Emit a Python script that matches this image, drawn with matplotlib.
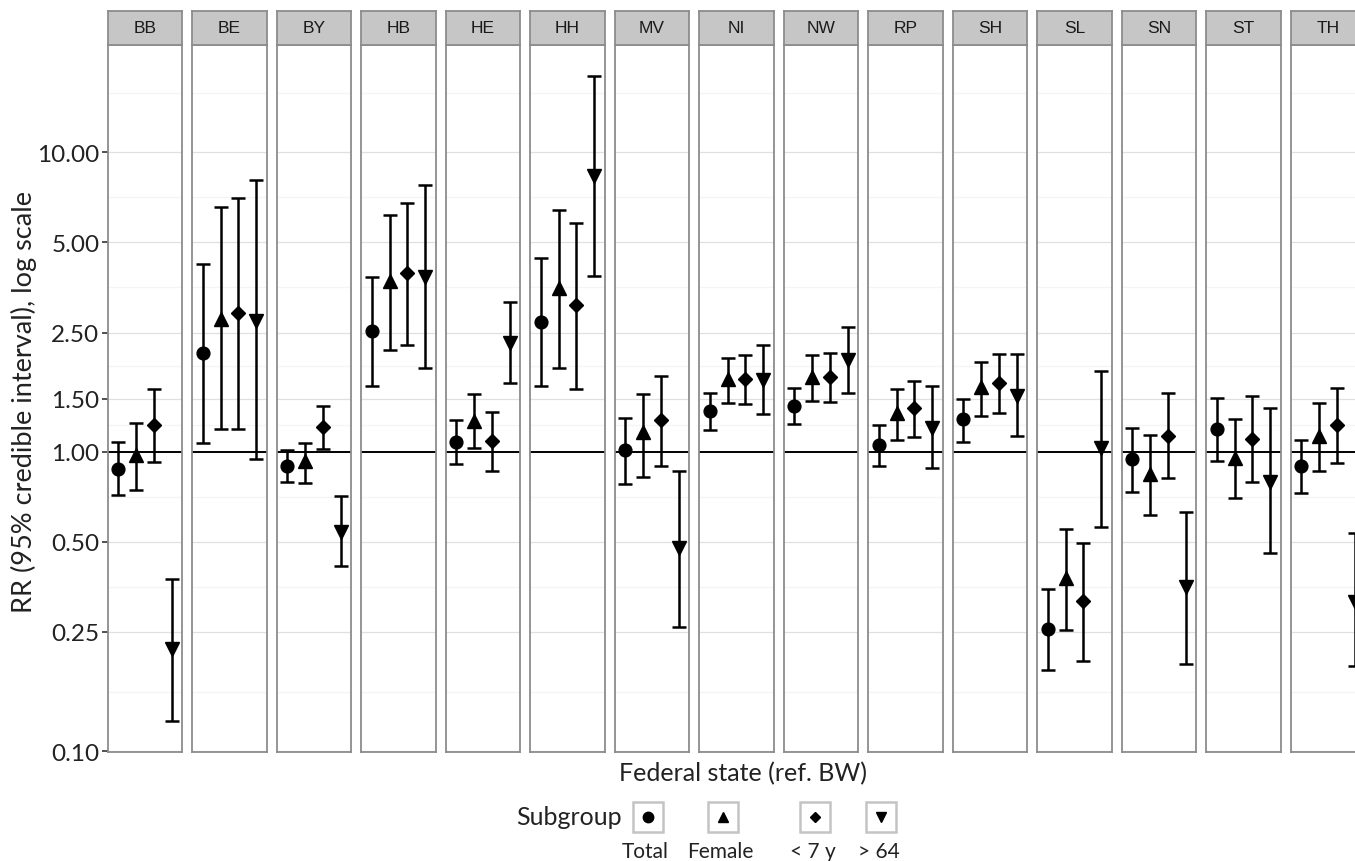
import matplotlib
matplotlib.use("Agg")
import matplotlib.pyplot as plt
from matplotlib.patches import Rectangle
from matplotlib.ticker import NullLocator

# ---- data -----------------------------------------------------------------
states = ["BB", "BE", "BY", "HB", "HE", "HH", "MV", "NI", "NW", "RP",
          "SH", "SL", "SN", "ST", "TH"]
subgroups = ["Total", "Female", "< 7 y", "> 64"]

total_rr = [0.877, 2.135, 0.899, 2.53, 1.081, 2.72, 1.011, 1.366, 1.425, 1.054,
            1.281, 0.256, 0.942, 1.19, 0.893]
total_lo = [0.714, 1.07, 0.792, 1.66, 0.912, 1.66, 0.78, 1.185, 1.237, 0.899,
            1.081, 0.186, 0.732, 0.932, 0.725]
total_hi = [1.081, 4.23, 1.014, 3.83, 1.272, 4.43, 1.30, 1.567, 1.636, 1.224,
            1.503, 0.348, 1.198, 1.507, 1.093]

female_rr = [0.972, 2.77, 0.932, 3.71, 1.268, 3.52, 1.16, 1.744, 1.78, 1.351,
             1.642, 0.3775, 0.844, 0.955, 1.124]
female_lo = [0.743, 1.194, 0.786, 2.18, 1.025, 1.906, 0.823, 1.456, 1.477, 1.093,
             1.318, 0.254, 0.613, 0.70, 0.862]
female_hi = [1.246, 6.54, 1.073, 6.15, 1.557, 6.40, 1.56, 2.06, 2.097, 1.625,
             1.995, 0.552, 1.136, 1.286, 1.45]

young_rr = [1.224, 2.915, 1.211, 3.94, 1.085, 3.08, 1.272, 1.75, 1.775, 1.40,
            1.70, 0.318, 1.132, 1.104, 1.224]
young_lo = [0.922, 1.19, 1.018, 2.27, 0.865, 1.62, 0.899, 1.44, 1.466, 1.12,
            1.351, 0.2003, 0.814, 0.792, 0.918]
young_hi = [1.613, 7.06, 1.425, 6.77, 1.36, 5.82, 1.787, 2.097, 2.134, 1.72,
            2.118, 0.497, 1.567, 1.54, 1.63]

old_rr = [0.2197, 2.74, 0.538, 3.82, 2.30, 8.32, 0.475, 1.73, 2.03, 1.202,
          1.53, 1.025, 0.352, 0.789, 0.315]
old_lo = [0.126, 0.948, 0.415, 1.906, 1.70, 3.87, 0.259, 1.337, 1.567, 0.88,
          1.132, 0.561, 0.196, 0.46, 0.193]
old_hi = [0.375, 8.09, 0.709, 7.78, 3.15, 18.0, 0.862, 2.275, 2.60, 1.654,
          2.12, 1.86, 0.631, 1.395, 0.535]

y_breaks = [0.10, 0.25, 0.50, 1.00, 1.50, 2.50, 5.00, 10.00]

series = [(total_rr, total_lo, total_hi), (female_rr, female_lo, female_hi),
          (young_rr, young_lo, young_hi), (old_rr, old_lo, old_hi)]
markers = ["o", "^", "D", "v"]
msizes = [9.2, 10.2, 7.0, 10.2]

# ---- style ---------------------------------------------------------------
FONT = ["Lato", "DejaVu Sans"]
BORDER = "#8c8c8c"
STRIP = "#c6c6c6"
GRID_MAJ = "#e0e0e0"
GRID_MIN = "#f4f4f4"

W, H = 1355, 862
fig = plt.figure(figsize=(W / 100, H / 100), dpi=100)


def fx(px):
    return px / W


def fy(py):
    return 1 - py / H


left0, step, pw = 107.7, 84.5, 74.7
ptop, pbot, stop = 45.5, 753.0, 12.3

# minor grid lines sit half-way (in log space) between breaks
ext = y_breaks + [25.0]
minor = [(a * b) ** 0.5 for a, b in zip(ext[:-1], ext[1:])]

for i, st in enumerate(states):
    x0 = left0 + step * i
    ax = fig.add_axes([fx(x0), fy(pbot), pw / W, (pbot - ptop) / H])
    ax.set_yscale("log")
    ax.set_ylim(0.0993, 22.9)
    ax.set_xlim(-0.6, 3.6)
    for v in minor:
        ax.axhline(v, color=GRID_MIN, lw=0.9, zorder=0)
    for v in y_breaks:
        ax.axhline(v, color=GRID_MAJ, lw=0.9, zorder=0)
    ax.axhline(1.0, color="black", lw=1.4, zorder=1)
    for j, (rr, lo, hi) in enumerate(series):
        ax.errorbar([j], [rr[i]], yerr=[[rr[i] - lo[i]], [hi[i] - rr[i]]],
                    fmt=markers[j], ms=msizes[j], color="black", ecolor="black",
                    elinewidth=1.8, capsize=4.7, capthick=1.8, zorder=3)
    for sp in ax.spines.values():
        sp.set_color(BORDER)
        sp.set_linewidth(1.3)
    ax.set_xticks([])
    ax.yaxis.set_minor_locator(NullLocator())
    if i == 0:
        ax.set_yticks(y_breaks, [f"{v:.2f}" for v in y_breaks])
        ax.tick_params(axis="y", length=4, width=1.2, color="#333333",
                       labelsize=17.5, pad=2, labelcolor="#222222")
        for lab in ax.get_yticklabels():
            lab.set_family(FONT)
    else:
        ax.set_yticks([])

    sax = fig.add_axes([fx(x0), fy(ptop), pw / W, (ptop - stop) / H])
    sax.set_facecolor(STRIP)
    sax.set_xticks([])
    sax.set_yticks([])
    for sp in sax.spines.values():
        sp.set_color(BORDER)
        sp.set_linewidth(1.3)
    sax.text(0.5, 0.5, st, ha="center", va="center", fontsize=12.5,
             family="Liberation Sans", color="#1a1a1a", transform=sax.transAxes)

fig.text(fx(24), fy(402), "RR (95% credible interval), log scale", rotation=90,
         ha="center", va="center", fontsize=19.5, family=FONT, color="#222222")
fig.text(fx(743), fy(774), "Federal state (ref. BW)", ha="center", va="center",
         fontsize=18, family=FONT, color="#222222")

# ---- legend (ggplot style: keys in boxes, labels below) -------------------
lax = fig.add_axes([0, 0, 1, 1])
lax.set_xlim(0, W)
lax.set_ylim(H, 0)
lax.axis("off")
key_x = [647.7, 722.8, 815.0, 880.8]
key_y = 817.7
lax.text(622, key_y, "Subgroup", ha="right", va="center", fontsize=18,
         family=FONT, color="#222222")
for cx, m, lab in zip(key_x, markers, subgroups):
    lax.add_patch(Rectangle((cx - 15, key_y - 15), 30, 30, fill=False,
                            ec="#c4c4c4", lw=1.8))
    lax.plot([cx], [key_y], marker=m, ms=7.5 if m != "D" else 5.5,
             color="black", ls="none")
    lax.text(cx - 2, 858, lab, ha="center", va="baseline", fontsize=15,
             family=FONT, color="#222222")

fig.savefig("out.png", dpi=100)
